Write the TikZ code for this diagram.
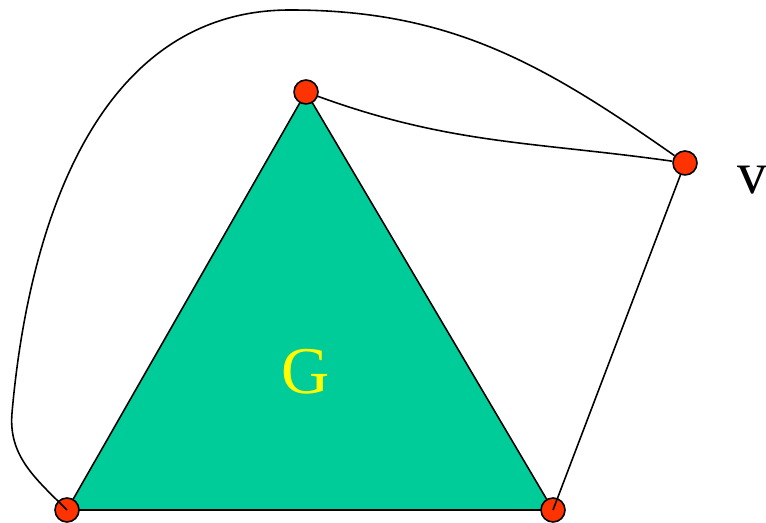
\documentclass[tikz,border=0pt]{standalone}
\usepackage{fontspec}
\setmainfont{Liberation Serif}
\usepackage{xcolor}
\definecolor{FaceGreen}{HTML}{00CC99}
\definecolor{VertexRed}{HTML}{FF3300}
\definecolor{LabelYellow}{HTML}{FFFF00}
\usetikzlibrary{positioning}
\tikzset{
  graphvertex/.style={
    circle,
    draw=black,
    fill=VertexRed,
    line width=0.9pt,
    minimum size=0.48cm,
    inner sep=0pt
  },
  graphface/.style={
    draw=black,
    fill=FaceGreen,
    line width=0.9pt,
    line join=round
  },
  graphedge/.style={
    draw=black,
    line width=0.9pt
  }
}

\begin{document}
\begin{tikzpicture}[x=0.02cm,y=0.02cm]
  \useasboundingbox (0,0) rectangle (766,523);
  \coordinate (ptop) at (306,431);
  \coordinate (pleft) at (67,13);
  \coordinate (pright) at (553,13);
  \coordinate (pv) at (685,360);
  \coordinate (peak) at (290,513);
  \coordinate (bulge) at (12,110);
  \draw[graphface] (ptop) -- (pleft) -- (pright) -- cycle;
  \node[font=\fontsize{38}{40}\selectfont,text=LabelYellow] (glabel) at (306,151) {G};
  \node[graphvertex] (top) at (ptop) {};
  \node[graphvertex] (left) at (pleft) {};
  \node[graphvertex] (right) at (pright) {};
  \node[graphvertex] (v) at (pv) {};
  \node[font=\fontsize{34}{36}\selectfont] (vlabel) at (752,343) {v};
  \draw[graphedge] (top) to[out=-20,in=172] (v);
  \draw[graphedge] (v) -- (right.center);
  \draw[graphedge] (left.center) to[out=135,in=-95] (bulge) to[out=85,in=180] (peak) to[out=0,in=145] (v);
\end{tikzpicture}
\end{document}
